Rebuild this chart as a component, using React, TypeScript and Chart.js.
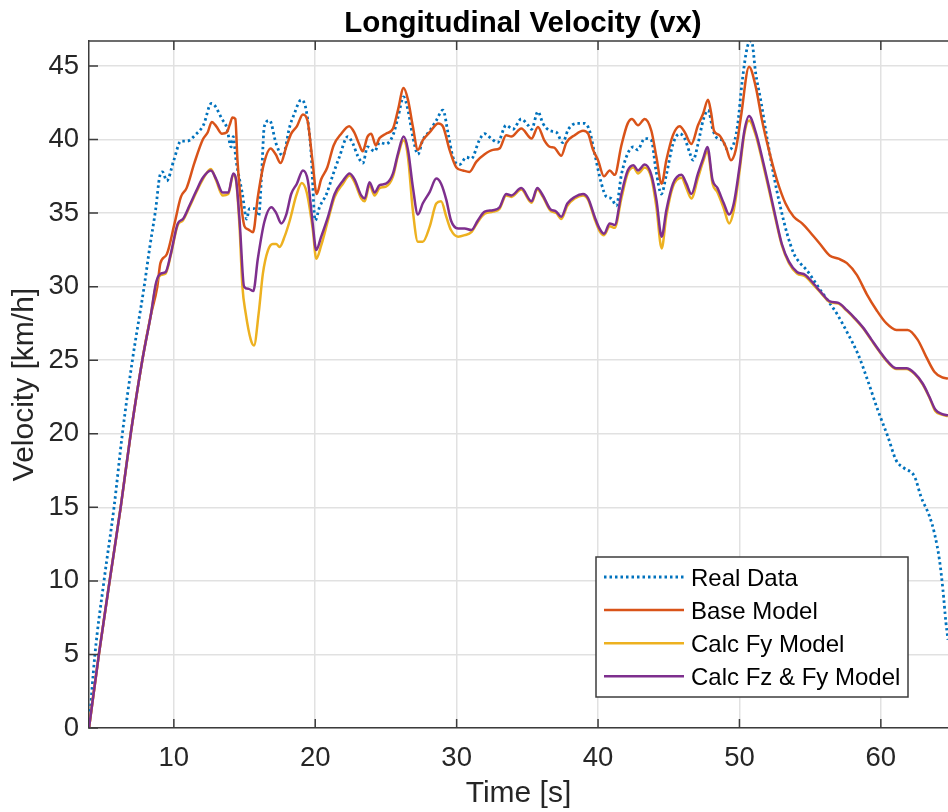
import React, { useEffect, useRef } from "react";
import { Chart, registerables } from "chart.js";

Chart.register(...registerables);

const TITLE = "Longitudinal Velocity (vx)";
const X_LABEL = "Time [s]";
const Y_LABEL = "Velocity [km/h]";
const X_TICKS = [10, 20, 30, 40, 50, 60];
const Y_TICKS = [0, 5, 10, 15, 20, 25, 30, 35, 40, 45];
const X_RANGE = [4, 64.75];
const Y_RANGE = [0, 46.7];
const SERIES_NAMES = ["Real Data", "Base Model", "Calc Fy Model", "Calc Fz & Fy Model"];
const SERIES_COLORS = ["#0072BD", "#D95319", "#EDB120", "#7E2F8E"];

// [time s, velocity km/h]
const realData: [number, number][] = [
  [4, 0], [4.42, 5], [5.06, 10], [5.77, 15], [6.36, 20], [7.07, 25], [7.9, 30], [8.3, 32.7], [8.72, 35.3],
  [9.0, 37.5], [9.2, 37.8], [9.5, 37.2], [10.0, 38.6], [10.5, 39.9], [10.96, 39.9], [11.5, 40.3], [12.1, 41.0],
  [12.65, 42.45], [12.9, 42.3], [13.4, 41.4], [13.75, 40.8], [14.05, 39.5], [14.2, 40.2], [14.4, 38.6],
  [14.85, 36.3], [15.15, 34.6], [15.35, 35.3], [15.7, 35.3], [16.0, 34.8], [16.2, 37.5], [16.4, 40.9],
  [16.77, 41.3], [17.24, 39.7], [17.7, 38.9], [18.2, 40.9], [18.5, 41.7], [19.0, 42.7], [19.36, 42.0],
  [19.7, 39.2], [20.0, 34.5], [20.3, 35.4], [20.8, 36.3], [21.25, 37.6], [21.7, 38.8], [22.3, 40.2],
  [22.67, 39.7], [23.0, 38.9], [23.37, 38.4], [23.7, 39.5], [24.2, 39.2], [24.55, 39.8], [25.0, 39.7],
  [25.5, 40.3], [25.85, 41.5], [26.25, 42.9], [26.56, 42.0], [26.9, 40.2], [27.26, 39.0], [27.6, 39.95],
  [28.1, 40.6], [28.56, 41.3], [29.03, 42.0], [29.4, 40.4], [29.74, 38.8], [30.2, 38.3], [30.7, 38.8],
  [31.04, 38.7], [31.6, 39.95], [31.97, 40.4], [32.45, 40.07], [32.9, 39.8], [33.5, 40.97], [33.98, 40.7],
  [34.57, 41.4], [35.05, 40.97], [35.3, 40.7], [35.75, 41.9], [36.1, 41.1], [36.6, 40.6], [37.05, 40.5],
  [37.5, 39.8], [37.9, 40.7], [38.5, 41.1], [39.06, 41.1], [39.4, 40.6], [39.76, 39.05], [40.24, 37.0],
  [40.6, 36.1], [40.94, 36.0], [41.3, 35.5], [41.65, 37.6], [42.1, 39.05], [42.5, 39.5], [42.8, 39.3],
  [43.3, 40.07], [43.77, 39.95], [44.1, 37.9], [44.48, 36.3], [44.83, 37.6], [45.3, 39.7], [45.78, 40.4],
  [46.13, 40.07], [46.5, 39.05], [46.72, 38.6], [47.07, 39.7], [47.43, 41.3], [47.78, 42.0], [48.14, 40.6],
  [48.45, 40.07], [48.8, 39.95], [49.16, 39.3], [49.5, 39.5], [49.86, 40.9], [50.2, 44.0], [50.56, 46.3],
  [50.85, 46.7], [51.15, 44.5], [51.5, 42.7], [51.97, 40.0], [52.44, 37.5], [52.9, 35.4], [53.37, 33.6],
  [53.84, 32.26], [54.3, 31.6], [54.78, 31.1], [55.25, 30.45], [55.7, 29.8], [56.25, 29.07], [56.96, 28.05],
  [57.67, 26.8], [58.37, 25.45], [59.08, 23.6], [59.79, 21.6], [60.5, 19.8], [61.08, 18.2], [61.67, 17.65],
  [62.38, 17.1], [62.85, 15.7], [63.44, 14.4], [63.8, 13.2], [64.15, 11.4], [64.39, 9.4], [64.6, 7.2],
  [64.75, 6.0],
];

const baseModel: [number, number][] = [
  [4, 0], [4.7, 5], [5.46, 10], [6.24, 15], [6.95, 20], [7.77, 25], [8.36, 28], [8.83, 30], [9.05, 31.6],
  [9.5, 32.2], [10.05, 34.3], [10.5, 36.1], [10.9, 36.7], [11.45, 38.4], [12.05, 40.0], [12.4, 40.5],
  [12.68, 41.2], [13.0, 40.9], [13.4, 40.4], [13.75, 40.5], [13.95, 41.0], [14.15, 41.5], [14.35, 41.4],
  [14.5, 38.6], [14.75, 35.7], [15.0, 34.1], [15.25, 33.9], [15.6, 33.7], [15.94, 36.1], [16.35, 38.3],
  [16.85, 39.4], [17.2, 39.0], [17.55, 38.4], [17.95, 39.5], [18.3, 40.4], [18.7, 40.9], [19.13, 41.7],
  [19.45, 41.3], [19.8, 38.6], [20.1, 36.3], [20.42, 37.3], [20.85, 38.1], [21.3, 39.6], [21.84, 40.4],
  [22.4, 40.9], [22.75, 40.5], [23.1, 39.7], [23.35, 39.2], [23.7, 40.2], [23.96, 40.4], [24.28, 39.6],
  [24.55, 40.1], [25.0, 40.4], [25.5, 40.75], [25.85, 42.0], [26.25, 43.5], [26.56, 42.7], [26.9, 40.9],
  [27.26, 39.3], [27.6, 39.95], [28.1, 40.5], [28.7, 41.1], [29.03, 40.9], [29.5, 39.3], [29.98, 38.1],
  [30.45, 37.9], [30.9, 37.8], [31.4, 38.5], [31.98, 39.0], [32.57, 39.3], [33.04, 39.4], [33.5, 40.3],
  [33.87, 40.2], [34.57, 40.75], [35.3, 40.07], [35.75, 40.86], [36.2, 39.95], [36.6, 39.5], [36.9, 39.45],
  [37.4, 38.9], [37.76, 39.8], [38.35, 40.3], [38.94, 40.6], [39.3, 40.4], [39.65, 39.3], [40.0, 38.6],
  [40.42, 37.5], [40.83, 37.9], [41.18, 37.6], [41.65, 39.6], [42.1, 41.1], [42.4, 41.4], [42.83, 40.97],
  [43.3, 41.4], [43.77, 40.6], [44.13, 38.8], [44.5, 37.0], [44.83, 38.6], [45.3, 40.3], [45.78, 40.9],
  [46.13, 40.5], [46.6, 39.7], [47.07, 40.97], [47.43, 41.76], [47.78, 42.7], [48.0, 41.8], [48.2, 40.6],
  [48.57, 40.3], [49.04, 39.5], [49.4, 38.6], [49.74, 39.3], [50.1, 41.5], [50.68, 44.95], [51.15, 43.6],
  [51.6, 41.3], [52.08, 39.3], [52.67, 37.2], [53.26, 35.65], [53.84, 34.75], [54.43, 34.3], [55.0, 33.7],
  [55.7, 32.9], [56.4, 32.1], [57.0, 31.9], [57.6, 31.6], [58.3, 30.8], [59.0, 29.5], [59.7, 28.4],
  [60.4, 27.5], [61.1, 27.06], [61.9, 27.06], [62.6, 26.4], [63.2, 25.25], [63.8, 24.2], [64.3, 23.85],
  [64.75, 23.75],
];

const calcFyModel: [number, number][] = [
  [4, 0], [4.7, 5], [5.46, 10], [6.24, 15], [6.95, 20], [7.77, 25], [8.36, 28], [8.75, 30.2], [9.1, 30.8],
  [9.42, 30.9], [9.8, 32.2], [10.28, 34.2], [10.64, 34.5], [11.1, 35.4], [11.58, 36.4], [12.05, 37.3],
  [12.62, 38.0], [13.0, 37.2], [13.45, 36.2], [13.85, 36.3], [14.2, 37.6], [14.4, 37.2], [14.65, 34.0],
  [14.85, 30.0], [15.08, 28.2], [15.44, 26.4], [15.67, 26.0], [16.0, 28.2], [16.3, 30.9], [16.65, 32.45],
  [17.0, 32.9], [17.24, 32.9], [17.48, 32.7], [17.83, 33.4], [18.2, 34.5], [18.66, 36.2], [19.05, 37.05],
  [19.4, 36.4], [19.83, 33.85], [20.07, 31.9], [20.42, 32.8], [20.9, 34.5], [21.37, 36.1], [21.96, 37.0],
  [22.43, 37.55], [22.78, 37.1], [23.25, 36.0], [23.5, 35.8], [23.84, 36.9], [24.2, 36.2], [24.55, 36.7],
  [25.0, 36.8], [25.5, 37.5], [25.85, 38.9], [26.25, 39.95], [26.56, 38.8], [26.9, 35.2], [27.26, 33.05],
  [27.6, 33.05], [28.1, 34.1], [28.56, 35.65], [28.9, 35.8], [29.27, 34.75], [29.6, 33.85], [30.1, 33.4],
  [30.57, 33.5], [31.04, 33.7], [31.5, 34.4], [31.98, 34.95], [32.57, 35.1], [33.04, 35.3], [33.5, 36.2],
  [33.87, 36.1], [34.57, 36.6], [35.3, 35.7], [35.7, 36.6], [36.1, 36.1], [36.6, 35.2], [37.05, 35.0],
  [37.4, 34.6], [37.83, 35.5], [38.35, 36.0], [38.94, 36.2], [39.3, 35.9], [39.76, 34.6], [40.1, 33.8],
  [40.42, 33.5], [40.83, 34.1], [41.18, 34.0], [41.65, 36.0], [42.1, 37.7], [42.5, 38.1], [42.83, 37.7],
  [43.3, 38.1], [43.77, 37.4], [44.13, 35.4], [44.5, 32.6], [44.83, 34.8], [45.3, 36.8], [45.9, 37.4],
  [46.25, 36.7], [46.6, 36.0], [47.07, 37.4], [47.43, 38.5], [47.74, 39.2], [48.1, 37.0], [48.45, 36.4],
  [48.9, 35.3], [49.27, 34.3], [49.6, 35.2], [50.0, 37.8], [50.35, 40.4], [50.68, 41.3], [51.15, 40.3],
  [51.6, 38.6], [52.08, 36.6], [52.55, 34.6], [53.0, 32.8], [53.5, 31.6], [54.07, 30.9], [54.66, 30.7],
  [55.25, 30.1], [55.83, 29.5], [56.4, 28.95], [57.0, 28.85], [57.6, 28.35], [58.17, 27.8], [58.76, 27.15],
  [59.34, 26.35], [59.93, 25.55], [60.5, 24.85], [61.1, 24.4], [61.8, 24.4], [62.4, 24.05], [62.97, 23.35],
  [63.44, 22.45], [63.85, 21.55], [64.3, 21.3], [64.75, 21.2],
];

const calcFzFyModel: [number, number][] = [
  [4, 0], [4.7, 5], [5.46, 10], [6.24, 15], [6.95, 20], [7.77, 25], [8.36, 28], [8.75, 30.3], [9.1, 30.9],
  [9.42, 31.0], [9.8, 32.3], [10.28, 34.3], [10.64, 34.6], [11.1, 35.5], [11.58, 36.5], [12.05, 37.4],
  [12.62, 37.9], [13.0, 37.3], [13.45, 36.4], [13.85, 36.4], [14.2, 37.7], [14.4, 37.3], [14.65, 34.5],
  [14.97, 30.0], [15.3, 29.85], [15.62, 29.7], [15.94, 31.9], [16.4, 34.4], [16.9, 35.4], [17.24, 35.0],
  [17.6, 34.3], [17.95, 34.9], [18.3, 36.3], [18.7, 37.0], [19.13, 37.9], [19.48, 37.2], [19.83, 34.2],
  [20.07, 32.5], [20.42, 33.4], [20.9, 34.75], [21.37, 36.3], [21.96, 37.2], [22.43, 37.7], [22.78, 37.3],
  [23.25, 36.2], [23.5, 36.0], [23.84, 37.1], [24.2, 36.4], [24.55, 36.9], [25.0, 37.0], [25.5, 37.7],
  [25.85, 39.05], [26.25, 40.2], [26.56, 39.3], [26.9, 36.8], [27.26, 34.9], [27.6, 35.65], [28.1, 36.45],
  [28.56, 37.35], [28.9, 37.0], [29.27, 35.9], [29.6, 34.5], [30.1, 33.96], [30.57, 33.96], [31.04, 33.85],
  [31.5, 34.5], [31.98, 35.1], [32.57, 35.2], [33.04, 35.4], [33.5, 36.3], [33.87, 36.2], [34.57, 36.7],
  [35.3, 35.8], [35.7, 36.7], [36.1, 36.2], [36.6, 35.3], [37.05, 35.1], [37.4, 34.75], [37.83, 35.65],
  [38.35, 36.1], [38.94, 36.3], [39.3, 36.0], [39.76, 34.75], [40.1, 33.96], [40.42, 33.6], [40.83, 34.3],
  [41.18, 34.2], [41.65, 36.3], [42.1, 37.9], [42.5, 38.26], [42.83, 37.9], [43.3, 38.3], [43.77, 37.6],
  [44.13, 35.9], [44.5, 33.4], [44.83, 35.2], [45.3, 37.0], [45.9, 37.6], [46.25, 37.0], [46.6, 36.3],
  [47.07, 37.7], [47.43, 38.7], [47.74, 39.5], [48.1, 37.24], [48.45, 36.7], [48.9, 35.65], [49.27, 34.9],
  [49.6, 35.65], [50.0, 38.1], [50.35, 40.6], [50.68, 41.6], [51.15, 40.5], [51.6, 38.8], [52.08, 36.8],
  [52.55, 34.75], [53.0, 32.9], [53.5, 31.7], [54.07, 31.0], [54.66, 30.8], [55.25, 30.2], [55.83, 29.55],
  [56.4, 29.0], [57.0, 28.9], [57.6, 28.4], [58.17, 27.85], [58.76, 27.2], [59.34, 26.4], [59.93, 25.6],
  [60.5, 24.9], [61.1, 24.45], [61.8, 24.45], [62.4, 24.1], [62.97, 23.4], [63.44, 22.5], [63.85, 21.65],
  [64.3, 21.35], [64.75, 21.25],
];

const FONT = '"Liberation Sans", Arial, Helvetica, sans-serif';
const AXIS_COLOR = "#3c3c3c";
const TEXT_COLOR = "#262626";
const GRID_COLOR = "#e1e1e1";

const toPoints = (arr: [number, number][]) => arr.map(([x, y]) => ({ x, y }));

const decorPlugin = {
  id: "decor",
  afterDatasetsDraw(chart: any) {
    const { ctx, chartArea: a, scales } = chart;
    ctx.save();
    ctx.strokeStyle = AXIS_COLOR;
    ctx.lineWidth = 1.5;
    ctx.beginPath();
    ctx.moveTo(a.left, a.top);
    ctx.lineTo(a.right, a.top);
    for (const v of X_TICKS) {
      const x = scales.x.getPixelForValue(v);
      ctx.moveTo(x, a.bottom);
      ctx.lineTo(x, a.bottom - 9);
      ctx.moveTo(x, a.top);
      ctx.lineTo(x, a.top + 9);
    }
    for (const v of Y_TICKS) {
      const y = scales.y.getPixelForValue(v);
      ctx.moveTo(a.left, y);
      ctx.lineTo(a.left + 9, y);
    }
    ctx.stroke();

    // title
    ctx.fillStyle = "#000";
    ctx.font = `bold 29.5px ${FONT}`;
    ctx.textAlign = "center";
    ctx.textBaseline = "alphabetic";
    ctx.fillText(TITLE, (a.left + a.right) / 2 + 4.5, 32);

    // legend
    const bl = a.right - 352;
    const br = a.right - 40;
    const bt = a.bottom - 171;
    const bb = a.bottom - 31;
    ctx.fillStyle = "#fff";
    ctx.fillRect(bl, bt, br - bl, bb - bt);
    ctx.strokeStyle = AXIS_COLOR;
    ctx.lineWidth = 1.5;
    ctx.strokeRect(bl, bt, br - bl, bb - bt);
    ctx.font = `24px ${FONT}`;
    ctx.textAlign = "left";
    ctx.textBaseline = "middle";
    chart.data.datasets.forEach((ds: any, i: number) => {
      const y = bt + 20 + i * 33.1;
      ctx.save();
      ctx.strokeStyle = ds.borderColor;
      ctx.lineWidth = ds.borderWidth;
      ctx.setLineDash(ds.borderDash || []);
      ctx.beginPath();
      ctx.moveTo(bl + 8, y);
      ctx.lineTo(bl + 88, y);
      ctx.stroke();
      ctx.restore();
      ctx.fillStyle = "#000";
      ctx.fillText(ds.label, bl + 95, y + 2);
    });
    ctx.restore();
  },
};

export default function App() {
  const ref = useRef<HTMLCanvasElement>(null);
  useEffect(() => {
    document.body.style.margin = "0";
    const canvas = ref.current;
    if (!canvas) return;
    const series = [realData, baseModel, calcFyModel, calcFzFyModel];
    const chart = new Chart(canvas, {
      type: "line",
      data: {
        datasets: series.map((s, i) => ({
          label: SERIES_NAMES[i],
          data: toPoints(s),
          borderColor: SERIES_COLORS[i],
          backgroundColor: SERIES_COLORS[i],
          borderWidth: i === 0 ? 2.8 : 2.5,
          borderDash: i === 0 ? [2.5, 3] : [],
          pointRadius: 0,
          fill: false,
          cubicInterpolationMode: "monotone" as const,
          order: 4 - i,
        })),
      },
      options: {
        animation: false,
        responsive: false,
        parsing: false as any,
        layout: { padding: { top: 41, left: 0, right: 0, bottom: 0 } },
        plugins: {
          legend: { display: false },
          tooltip: { enabled: false },
          title: { display: false },
        },
        scales: {
          x: {
            type: "linear",
            min: X_RANGE[0],
            max: X_RANGE[1],
            afterBuildTicks: (s: any) => {
              s.ticks = X_TICKS.map((v) => ({ value: v }));
            },
            afterFit: (s: any) => {
              s.height = 84;
            },
            ticks: {
              font: { size: 27.5, family: FONT },
              color: TEXT_COLOR,
              padding: 14,
              maxRotation: 0,
              includeBounds: false,
            },
            grid: { color: GRID_COLOR, lineWidth: 1.5, drawTicks: false },
            border: { display: true, color: AXIS_COLOR, width: 1.5 },
            title: {
              display: true,
              text: X_LABEL,
              font: { size: 30, family: FONT },
              color: TEXT_COLOR,
              padding: { top: 0, bottom: 0 },
            },
          },
          y: {
            type: "linear",
            min: Y_RANGE[0],
            max: Y_RANGE[1],
            afterBuildTicks: (s: any) => {
              s.ticks = Y_TICKS.map((v) => ({ value: v }));
            },
            afterFit: (s: any) => {
              s.width = 89;
            },
            ticks: {
              font: { size: 27.5, family: FONT },
              color: TEXT_COLOR,
              padding: 10,
              includeBounds: false,
            },
            grid: { color: GRID_COLOR, lineWidth: 1.5, drawTicks: false },
            border: { display: true, color: AXIS_COLOR, width: 1.5 },
            title: {
              display: true,
              text: Y_LABEL,
              font: { size: 30, family: FONT },
              color: TEXT_COLOR,
              padding: { top: 7, bottom: 0 },
            },
          },
        },
      },
      plugins: [decorPlugin],
    } as any);
    return () => chart.destroy();
  }, []);
  return (
    <div style={{ position: "relative", width: 948, height: 812 }}>
      <canvas ref={ref} width={948} height={812} style={{ display: "block" }} />
    </div>
  );
}
